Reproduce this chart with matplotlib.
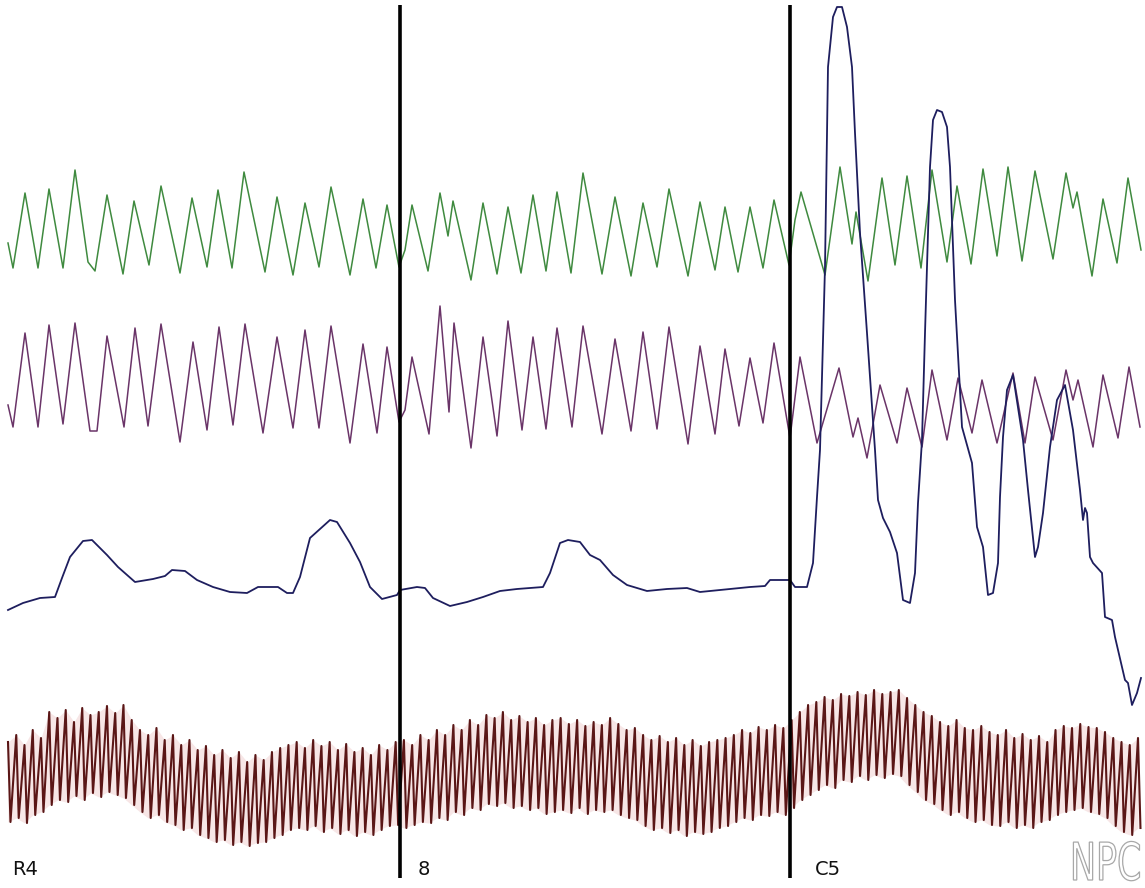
"""
Polygraph style trace strip: four channels with two epoch markers.
"""
import numpy as np
import matplotlib
matplotlib.use("Agg")
import matplotlib.pyplot as plt
from matplotlib.textpath import TextPath
from matplotlib.patches import PathPatch
from matplotlib.font_manager import FontProperties
from matplotlib.transforms import Affine2D

# green channel (x, y in screen units, y grows downward)
green_x = [8, 13, 25, 38, 49, 63, 75, 88, 95, 107, 123, 134, 149, 161, 180, 192, 207, 218, 232, 244,
           265, 277, 293, 305, 319, 331, 350, 363, 376, 387, 399,
           405, 412, 428, 440, 448, 453, 471, 483, 497, 508, 521, 533, 546, 557, 571, 583, 602, 615,
           631, 643, 657, 669, 688, 700, 715, 725, 738, 750, 763, 774, 789,
           795, 801, 825, 840, 852, 856, 868, 882, 895, 907, 921, 932, 947, 957, 971, 983, 997, 1008,
           1022, 1035, 1053, 1066, 1073, 1077, 1092, 1103, 1117, 1128, 1141]
green_y = [243, 268, 193, 268, 189, 268, 170, 262, 271, 195, 274, 201, 265, 186, 273, 198, 267, 190, 268, 172,
           272, 197, 275, 203, 267, 187, 275, 199, 268, 205, 267,
           250, 205, 271, 193, 236, 201, 280, 203, 274, 207, 273, 195, 271, 192, 273, 173, 274, 197,
           276, 203, 267, 189, 276, 202, 270, 207, 272, 207, 268, 200, 265,
           220, 192, 275, 167, 244, 212, 281, 178, 265, 176, 268, 170, 262, 186, 264, 169, 256, 167,
           261, 171, 259, 173, 208, 192, 276, 199, 263, 178, 250]

# purple channel
purple_x = [8, 13, 25, 38, 49, 63, 75, 90, 97, 107, 124, 135, 148, 161, 180, 193, 207, 219, 233, 245,
            263, 277, 293, 305, 319, 331, 350, 363, 377, 387, 399,
            405, 412, 429, 440, 449, 454, 471, 483, 497, 508, 522, 533, 546, 557, 572, 583, 602, 615,
            631, 643, 657, 669, 688, 700, 715, 725, 739, 750, 763, 774, 790,
            800, 817, 839, 853, 858, 867, 880, 897, 907, 922, 932, 947, 958, 972, 982, 997, 1013, 1025,
            1035, 1053, 1066, 1073, 1078, 1093, 1103, 1118, 1129, 1140]
purple_y = [405, 427, 333, 427, 325, 424, 323, 431, 431, 336, 427, 328, 426, 324, 442, 342, 430, 327, 425, 324,
            433, 337, 428, 330, 428, 326, 443, 344, 433, 347, 422,
            410, 357, 434, 306, 412, 323, 448, 337, 436, 321, 430, 337, 429, 328, 427, 326, 434, 339,
            431, 332, 429, 327, 444, 346, 434, 349, 426, 358, 423, 343, 438,
            357, 443, 368, 437, 418, 458, 385, 443, 388, 447, 370, 440, 378, 433, 380, 443, 373, 443,
            377, 440, 370, 400, 380, 447, 375, 438, 367, 427]

# navy channel
navy_x = [8, 23, 40, 55, 62, 70, 83, 92, 107, 118, 135, 153, 165, 172, 185, 197, 213, 230, 247, 258,
          278, 287, 293, 300, 310, 330, 337, 350, 360, 370, 382, 397,
          400, 417, 425, 433, 450, 467, 483, 500, 517, 543, 550, 560, 568, 580, 590, 600, 613, 627,
          647, 667, 687, 700, 720, 750, 765, 770, 790,
          795, 807, 813, 817, 820, 825, 828, 833, 837, 842, 847, 852, 855, 860, 867, 875, 878, 883,
          890, 897, 903, 910, 915, 918, 922, 925, 930, 933, 937, 942, 947, 950, 955, 962, 972, 977,
          983, 988, 993, 998, 1000, 1003, 1007, 1013, 1023, 1028, 1035, 1038, 1043, 1050, 1057, 1065,
          1073, 1080, 1083, 1085, 1087, 1090, 1093, 1102, 1105, 1112, 1115, 1122, 1125, 1128, 1132,
          1137, 1141]
navy_y = [610, 603, 598, 597, 578, 557, 541, 540, 555, 567, 582, 579, 576, 570, 571, 580, 587, 592, 593, 587,
          587, 593, 593, 577, 538, 520, 522, 543, 562, 587, 599, 595,
          590, 587, 588, 598, 606, 602, 597, 591, 589, 587, 573, 543, 540, 542, 555, 560, 575, 585,
          591, 589, 588, 592, 590, 587, 586, 580, 580,
          587, 587, 563, 497, 450, 267, 67, 17, 7, 7, 27, 67, 133, 233, 333, 450, 500, 518,
          532, 553, 600, 603, 573, 503, 440, 333, 167, 120, 110, 112, 127, 167, 300, 427, 463, 527,
          547, 595, 593, 563, 497, 437, 390, 375, 440, 490, 557, 547, 513, 447, 400, 385,
          430, 490, 520, 508, 513, 557, 563, 573, 617, 620, 637, 667, 680, 683, 705,
          693, 678]

# brown channel: peak and trough of every cycle
brown_top = [742, 735, 745, 730, 738, 712, 718, 710, 722, 708, 715, 712,
             706, 713, 705, 720, 730, 735, 728, 740, 735, 745, 740, 750,
             746, 755, 750, 758, 752, 762, 755, 760, 752, 748, 745, 742,
             748, 740, 746, 742, 750, 744, 752, 748, 755, 745, 750, 742,
             740, 745, 735, 740, 730, 735, 725, 730, 720, 725, 715, 718,
             712, 720, 716, 722, 718, 725, 720, 718, 724, 720, 726, 722,
             725, 718, 724, 730, 728, 735, 740, 736, 742, 738, 745, 740,
             746, 742, 740, 738, 735, 730, 733, 727, 730, 725, 728, 720,
             712, 705, 702, 697, 700, 694, 696, 692, 695, 690, 694, 692,
             690, 698, 705, 712, 716, 722, 726, 720, 728, 730, 726, 732,
             735, 730, 738, 734, 740, 736, 742, 730, 726, 728, 724, 727,
             728, 732, 738, 742, 745, 738]
brown_bot = [822, 818, 823, 815, 812, 805, 800, 802, 796, 800, 793, 797,
             792, 795, 798, 805, 812, 818, 815, 822, 825, 830, 828, 835,
             838, 842, 840, 845, 842, 846, 843, 842, 838, 835, 830, 828,
             830, 826, 832, 828, 834, 830, 836, 832, 835, 830, 826, 825,
             828, 825, 822, 823, 818, 820, 812, 815, 808, 810, 804, 806,
             803, 808, 806, 810, 808, 814, 812, 810, 813, 808, 814, 810,
             812, 810, 815, 818, 820, 826, 830, 828, 833, 830, 836, 832,
             834, 832, 828, 826, 822, 818, 820, 815, 816, 812, 815, 808,
             800, 795, 790, 785, 788, 780, 782, 776, 780, 775, 778, 774,
             776, 785, 792, 800, 804, 810, 815, 812, 818, 822, 820, 825,
             826, 822, 828, 825, 828, 822, 820, 815, 812, 810, 808, 812,
             814, 818, 826, 832, 835, 828]

epoch_x = [400, 790]
epoch_labels = ["R4", "8", "C5"]
label_x = [12, 418, 815]


def main():
    fig = plt.figure(figsize=(11.45, 8.88), dpi=100)
    ax = fig.add_axes([0, 0, 1, 1])
    ax.set_xlim(0, 1145)
    ax.set_ylim(888, 0)
    ax.axis("off")

    ax.plot(green_x, green_y, color="#3f8a3f", lw=1.1)
    ax.plot(purple_x, purple_y, color="#6a3468", lw=1.1)

    # brown: steep fall from each peak to its trough, slower rise to the next peak
    n = len(brown_top)
    t_top = np.linspace(8, 1138, n)
    step = t_top[1] - t_top[0]
    t = np.empty(2 * n)
    t[0::2] = t_top
    t[1::2] = t_top + 0.3 * step
    y = np.empty(2 * n)
    y[0::2] = brown_top
    y[1::2] = brown_bot
    ax.fill_between(t_top, brown_top, brown_bot, color="#f7e6e6", lw=0)
    ax.plot(t, y, color="#5a1616", lw=1.5)

    ax.plot(navy_x, navy_y, color="#1e1e5e", lw=1.3)

    ax.vlines(epoch_x, 5, 878, color="black", lw=2.6)

    for lx, lab in zip(label_x, epoch_labels):
        ax.text(lx, 875, lab, fontsize=14, color="#111111",
                family="DejaVu Sans", va="baseline", ha="left")

    # narrow outlined watermark
    tp = TextPath((0, 0), "NPC", size=52, prop=FontProperties(family="DejaVu Sans"))
    tr = Affine2D().scale(0.67, -1).translate(1070, 880)
    ax.add_patch(PathPatch(tr.transform_path(tp), facecolor="white",
                           edgecolor="#a8a8a8", lw=0.9))

    fig.savefig("out.png", dpi=100)


if __name__ == "__main__":
    main()
